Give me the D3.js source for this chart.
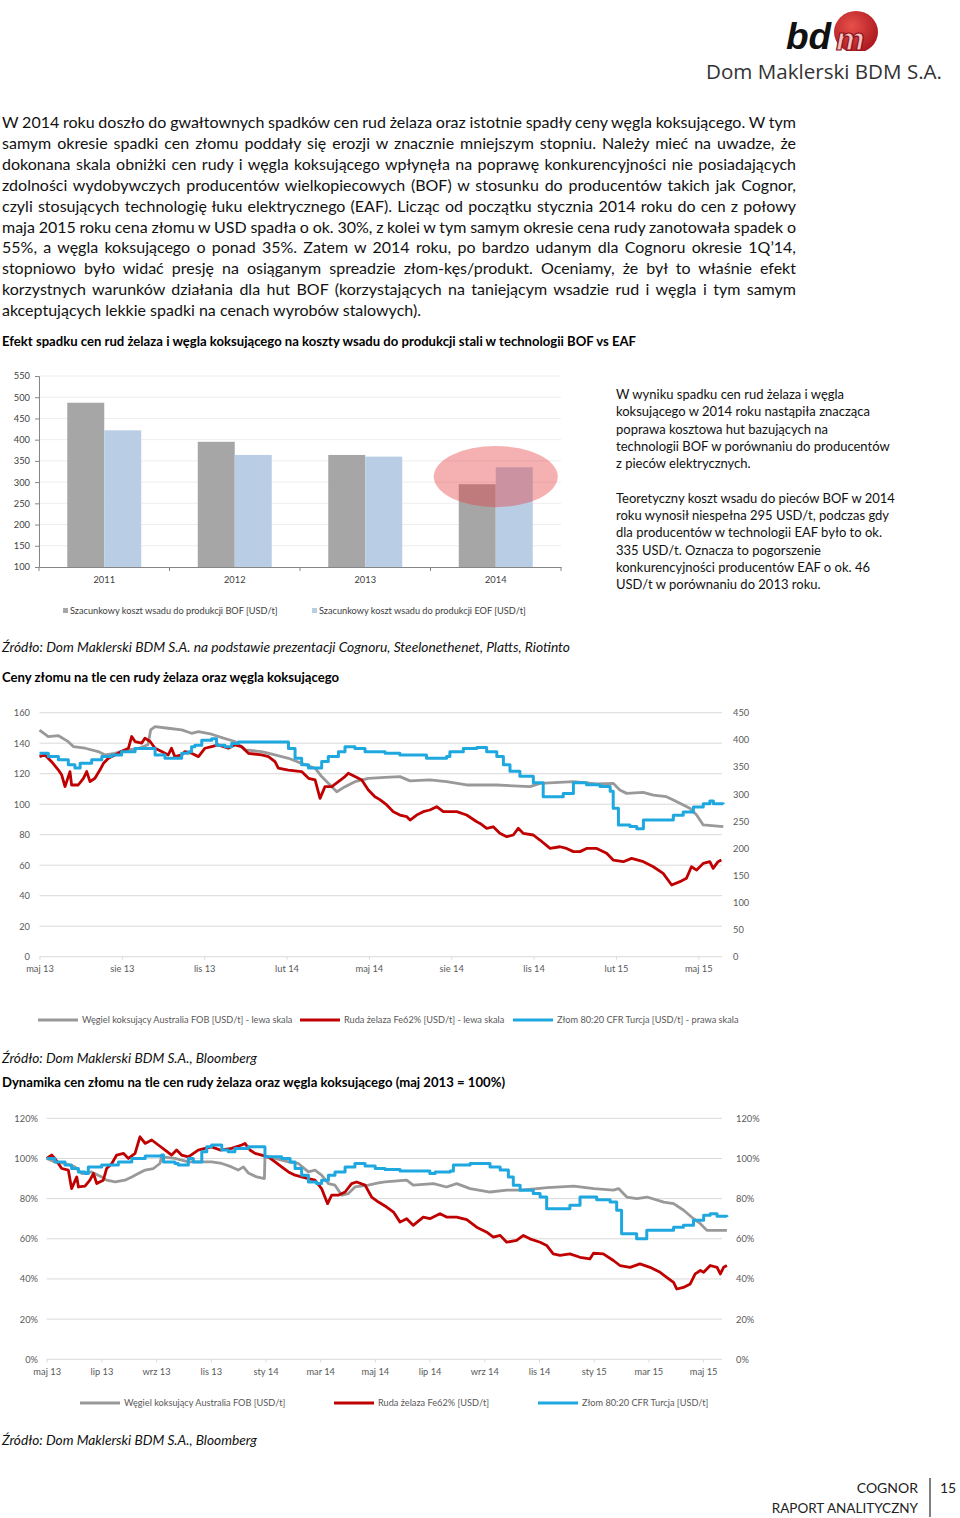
<!DOCTYPE html>
<html lang="pl">
<head>
<meta charset="utf-8">
<script src="https://d3js.org/d3.v7.min.js"></script>
<style>
  body { margin: 0; background: #fff; }
  svg text { font-family: Lato, "Open Sans", sans-serif; }
</style>
</head>
<body>
<script>
// ---- dane: wykres słupkowy ----
const lata = ["2011", "2012", "2013", "2014"];
const kosztBOF = [487, 395, 364, 295];
const kosztEOF = [422, 364, 360, 335];
const tickiSlupki = [100, 150, 200, 250, 300, 350, 400, 450, 500, 550];

// ---- dane: ceny (t = miesiące od maja 2013) ----
const etykietyCeny = ["maj 13", "sie 13", "lis 13", "lut 14", "maj 14", "sie 14", "lis 14", "lut 15", "maj 15"];
const miesiaceCeny = [0, 3, 6, 9, 12, 15, 18, 21, 24];
const tickiLewa = [0, 20, 40, 60, 80, 100, 120, 140, 160];
const tickiPrawa = [0, 50, 100, 150, 200, 250, 300, 350, 400, 450];

const wegielUsd = [[0,148.5],[0.32,144.3],[0.69,144.9],[1.05,141],[1.23,137.8],[1.66,136.7],[2.14,134.5],[2.39,132.3],[2.75,133.4],[3.11,135.5],[3.6,136.5],[3.95,139],[4.05,148.7],[4.21,150.9],[4.69,149.8],[5.18,148.7],[5.54,146.5],[5.79,147.6],[6.27,145.9],[6.7,143.3],[7.12,141.1],[7.49,135.6],[8.09,134.5],[8.58,132.3],[9.07,130.1],[9.55,126.8],[10.04,123.6],[10.28,118.1],[10.52,113.7],[10.83,108.2],[11.13,111.5],[11.49,114.8],[11.98,117],[12.59,117.6],[13.13,118.1],[13.5,115.3],[14.22,116],[14.83,114.8],[15.56,112.6],[16.66,112.6],[17.87,111.5],[18.23,113.7],[19.45,114.8],[20.3,113.3],[20.9,113.7],[21.14,109.3],[21.39,107.1],[21.99,107.8],[22.36,106],[22.84,104.9],[23.09,102.8],[23.33,100.6],[23.69,97.3],[23.94,92.9],[24.18,86.4],[24.91,85.3]];

const rudaUsd = [[0,131.2],[0.2,132.3],[0.44,127.9],[0.69,122.4],[0.81,119.1],[0.93,111.5],[1.05,118.1],[1.11,121.4],[1.17,112.6],[1.41,112.6],[1.6,117],[1.72,121.4],[1.84,114.8],[2.02,117],[2.2,122.4],[2.33,126.8],[2.51,130.1],[2.75,132.3],[2.99,134.5],[3.24,136.7],[3.36,144.4],[3.48,141.1],[3.72,140],[3.84,143.3],[4.03,141.1],[4.21,136.7],[4.45,134.5],[4.69,132.3],[4.81,136.7],[4.93,131.2],[5.18,132.3],[5.3,134.5],[5.54,133.4],[5.79,131.2],[6.03,136.7],[6.27,137.8],[6.51,138.9],[6.88,136.7],[7.12,138.9],[7.36,137.8],[7.61,133.4],[8.09,132.3],[8.34,131.2],[8.58,127.9],[8.7,123.6],[9.07,122.4],[9.55,121.4],[9.8,117],[10.04,115.9],[10.22,103.8],[10.4,111.5],[10.65,111.5],[10.89,114.8],[11.13,118.1],[11.25,120.3],[11.49,118.1],[11.74,115.9],[11.98,109.3],[12.22,104.9],[12.4,103],[12.65,99.5],[12.89,95.1],[13.13,92.9],[13.38,91.8],[13.5,89.6],[13.74,92.9],[13.98,95.1],[14.22,96.2],[14.47,98.4],[14.71,95.1],[15.2,95.1],[15.56,92.9],[15.93,88.5],[16.05,87.4],[16.29,84.2],[16.53,85.2],[16.77,80.9],[17.02,78.7],[17.26,79.8],[17.44,84.2],[17.62,80.9],[17.99,79.8],[18.23,76.5],[18.6,71],[18.96,72.1],[19.2,71],[19.45,68.9],[19.69,68.9],[19.93,71],[20.3,71],[20.66,67.8],[20.9,63.4],[21.27,62.3],[21.57,64.5],[22,62.3],[22.36,59],[22.72,54.6],[23.03,47],[23.33,49.2],[23.57,51.4],[23.75,59],[23.94,56.8],[24.18,61.2],[24.42,62.3],[24.54,57.9],[24.72,62.3],[24.84,63.4]];

const zlomUsd = [[0,375],[0.32,369],[0.69,363],[1.05,354],[1.29,348],[1.48,357],[1.9,363],[2.27,369],[2.63,372],[2.99,378],[3.48,384],[4.09,384],[4.21,372],[4.57,366],[4.93,366],[5.18,375],[5.42,378],[5.54,387],[5.66,390],[5.91,399],[6.27,402],[6.45,390],[6.76,387],[7,393],[7.24,396],[8.82,396],[9.07,384],[9.31,366],[9.55,354],[9.8,348],[10.1,348],[10.28,360],[10.52,369],[10.89,378],[11.13,387],[11.49,384],[11.86,378],[12.59,375],[13.13,372],[14.1,366],[14.83,369],[14.95,378],[15.44,384],[15.93,386],[16.29,378],[16.66,369],[16.9,354],[17.14,342],[17.5,333],[17.99,321],[18.35,295],[19.08,301],[19.45,321],[19.93,317],[20.42,314],[20.79,305],[20.9,274],[21.09,243],[21.51,240],[21.76,236],[22,252],[22.6,252],[23.09,261],[23.45,267],[23.82,276],[24.18,282],[24.42,287],[24.55,282],[24.91,281]];

// ---- dane: dynamika (maj 2013 = 100%) ----
const etykietyDyn = ["maj 13", "lip 13", "wrz 13", "lis 13", "sty 14", "mar 14", "maj 14", "lip 14", "wrz 14", "lis 14", "sty 15", "mar 15", "maj 15"];
const miesiaceDyn = [0, 2, 4, 6, 8, 10, 12, 14, 16, 18, 20, 22, 24];
const tickiProc = [0, 20, 40, 60, 80, 100, 120];

const wegielIdx = [[0,100],[0.3,98.3],[0.67,97.5],[1.03,95.8],[1.28,92.5],[1.64,93.3],[2.01,90.8],[2.19,89.2],[2.5,88.3],[2.86,89.2],[3.11,90.8],[3.35,92.5],[3.6,94.2],[3.9,95],[4.14,97.5],[4.2,100.8],[4.69,100],[5.18,98.3],[6.03,98.3],[6.4,97.5],[6.76,95.8],[7,94.2],[7.19,95.8],[7.37,92.8],[7.68,90.8],[7.96,90],[7.98,100.8],[8.35,100],[8.84,98.3],[9.2,97.5],[9.57,93.3],[9.81,94.2],[10.05,91.7],[10.3,87.5],[10.54,86.7],[10.79,81.7],[11.03,82.5],[11.27,85.8],[11.76,86.7],[12.13,87.8],[12.37,88.3],[13.16,89.2],[13.4,86.7],[14.14,87.5],[14.62,85.8],[14.99,87.5],[15.48,85],[16.21,83.3],[16.82,84.2],[17.31,84.2],[17.93,85],[18.3,85.5],[19.27,86.2],[20.01,85],[20.72,84.2],[20.91,85],[21.21,80.8],[21.58,80],[21.95,80.8],[22.56,78.3],[22.92,77.5],[23.29,74.2],[23.65,70],[23.9,67.5],[24.14,64.2],[24.87,64.2]];

const rudaIdx = [[0,100],[0.18,101.7],[0.3,100],[0.55,95],[0.79,94.2],[0.91,85],[1.1,90.8],[1.16,85.8],[1.4,86.2],[1.58,89.2],[1.71,92.5],[1.83,87.5],[2.07,89.2],[2.19,95],[2.38,97.5],[2.56,101.7],[2.81,102.5],[2.99,100],[3.23,102.5],[3.41,110.8],[3.6,107.5],[3.84,109.2],[4.08,106.7],[4.33,104.2],[4.57,101.7],[4.75,104.2],[4.93,101.7],[5.18,100.8],[5.54,104.2],[5.79,105],[6.03,105.8],[6.34,104.2],[6.76,105],[7.13,106.7],[7.25,107.5],[7.43,104.2],[7.62,102.5],[8.1,100.8],[8.35,98.3],[8.59,95.8],[8.84,93.3],[9.08,91.7],[9.32,90.8],[9.57,90],[9.81,89.2],[10.05,85],[10.27,77.5],[10.42,81.7],[10.66,81.7],[10.91,83.3],[11.15,87.5],[11.33,88.3],[11.64,86.7],[11.88,80.8],[12.13,78.3],[12.43,75.8],[12.68,73.3],[12.92,68.3],[13.16,70],[13.4,66.7],[13.77,70.8],[14.01,70],[14.38,72.5],[14.62,70.8],[14.99,70.8],[15.36,69.5],[15.72,65.8],[16.09,63.3],[16.33,60.8],[16.58,61.7],[16.82,58.3],[17.18,59.2],[17.43,61.7],[17.67,60],[18.04,58.3],[18.28,56.7],[18.52,52.5],[18.77,51.7],[19.13,52.5],[19.5,50.8],[19.86,50],[19.99,52.8],[20.35,52.5],[20.72,49.2],[20.96,46.7],[21.33,45.8],[21.69,47.5],[22.06,45.8],[22.43,43.3],[22.67,40.8],[22.92,38.3],[23.04,35],[23.28,35.8],[23.53,37.5],[23.71,42.5],[23.9,44.2],[24.02,43.3],[24.26,46.7],[24.51,45.8],[24.63,42.5],[24.75,45.8],[24.87,46.7]];

const zlomIdx = [[0,100],[0.3,98.3],[0.67,96.7],[0.91,95],[1.16,93.3],[1.4,92.5],[1.52,95.8],[2.01,96.7],[2.62,98.3],[3.11,100],[3.6,101.2],[4.2,101.7],[4.27,98.3],[4.69,97.5],[4.81,96.7],[5.12,96.7],[5.18,100],[5.36,98.3],[5.6,98.3],[5.67,103.3],[5.85,105.8],[6.03,106.7],[6.28,106.7],[6.4,104.2],[6.64,103.3],[6.88,105],[7.37,105.8],[7.96,105.8],[7.98,100.8],[8.59,100],[8.9,98.3],[9.08,95],[9.32,91.7],[9.57,88.3],[9.87,87.5],[10.05,89.2],[10.3,91.7],[10.54,93.3],[10.91,95.8],[11.27,97.5],[11.64,96.2],[12.01,95],[12.37,94.5],[12.92,93.8],[14.01,92.5],[14.2,93.3],[14.75,93.8],[14.87,96.7],[15.48,97.5],[15.84,97.5],[16.21,95.8],[16.58,94.2],[16.88,90.8],[17.06,86.7],[17.31,84.2],[17.79,82.5],[18.04,80.8],[18.28,75],[18.77,75],[19.13,76.7],[19.5,80.8],[20.11,79.5],[20.6,78.3],[20.84,74.2],[21.02,62.5],[21.57,60],[21.94,64.2],[22.55,64.2],[22.92,65.8],[23.28,66.7],[23.65,69.2],[24.02,71.7],[24.26,72.5],[24.51,71.2],[24.87,70.8]];

// ---- teksty ----
const akapit = [
  "W 2014 roku doszło do gwałtownych spadków cen rud żelaza oraz istotnie spadły ceny węgla koksującego. W tym",
  "samym okresie spadki cen złomu poddały się erozji w znacznie mniejszym stopniu. Należy mieć na uwadze, że",
  "dokonana skala obniżki cen rudy i węgla koksującego wpłynęła na poprawę konkurencyjności nie posiadających",
  "zdolności wydobywczych producentów wielkopiecowych (BOF) w stosunku do producentów takich jak Cognor,",
  "czyli stosujących technologię łuku elektrycznego (EAF). Licząc od początku stycznia 2014 roku do cen z połowy",
  "maja 2015 roku cena złomu w USD spadła o ok. 30%, z kolei w tym samym okresie cena rudy zanotowała spadek o",
  "55%, a węgla koksującego o ponad 35%. Zatem w 2014 roku, po bardzo udanym dla Cognoru okresie 1Q’14,",
  "stopniowo było widać presję na osiąganym spreadzie złom-kęs/produkt. Oceniamy, że był to właśnie efekt",
  "korzystnych warunków działania dla hut BOF (korzystających na taniejącym wsadzie rud i węgla i tym samym",
  "akceptujących lekkie spadki na cenach wyrobów stalowych)."
];
const komentarz = [
  "W wyniku spadku cen rud żelaza i węgla",
  "koksującego w 2014 roku nastąpiła znacząca",
  "poprawa kosztowa hut bazujących na",
  "technologii BOF w porównaniu do producentów",
  "z pieców elektrycznych.",
  "",
  "Teoretyczny koszt wsadu do pieców BOF w 2014",
  "roku wynosił niespełna 295 USD/t, podczas gdy",
  "dla producentów w technologii EAF było to ok.",
  "335 USD/t. Oznacza to pogorszenie",
  "konkurencyjności producentów EAF o ok. 46",
  "USD/t w porównaniu do 2013 roku."
];

const szary = "#999999", czerwony = "#c00000", niebieski = "#1fa8e0";
const etykiety = "#595959";

const svg = d3.select("body").append("svg")
    .attr("width", 960)
    .attr("height", 1518);

function tekst(x, y, s, rozmiar, opcje) {
    opcje = opcje || {};
    const t = svg.append("text")
        .attr("x", x).attr("y", y)
        .attr("font-size", rozmiar)
        .attr("fill", opcje.kolor || "#000")
        .attr("font-weight", opcje.bold ? "bold" : null)
        .attr("font-style", opcje.italic ? "italic" : null)
        .attr("text-anchor", opcje.anchor || "start")
        .text(s);
    if (opcje.szer) t.attr("textLength", opcje.szer).attr("lengthAdjust", "spacingAndGlyphs");
    return t;
}

// ---- logo ----
const defs = svg.append("defs");
const grad = defs.append("radialGradient").attr("id", "kula").attr("cx", "40%").attr("cy", "35%").attr("r", "70%");
grad.append("stop").attr("offset", "0%").attr("stop-color", "#e8504a");
grad.append("stop").attr("offset", "100%").attr("stop-color", "#a8151d");
svg.append("ellipse").attr("cx", 856).attr("cy", 32).attr("rx", 22).attr("ry", 21).attr("fill", "url(#kula)");
svg.append("rect").attr("x", 830).attr("y", 51).attr("width", 52).attr("height", 6).attr("fill", "#fff");
tekst(786, 49, "bd", 37, { bold: true, italic: true, kolor: "#111" }).style("font-family", "'Liberation Sans', sans-serif");
tekst(836, 50, "m", 32, { bold: true, italic: true, kolor: "#f3c2c2" })
    .attr("stroke", "#8a0f16").attr("stroke-width", 1.2)
    .style("font-family", "'Liberation Sans', sans-serif");
tekst(706, 79, "Dom Maklerski BDM S.A.", 20, { kolor: "#333", szer: 236 }).style("font-family", "'Open Sans', sans-serif");

// ---- akapit wyjustowany ----
akapit.forEach((linia, i) => {
    const t = tekst(2, 128 + i * 20.9, linia, 16, { kolor: "#111" });
    if (i < akapit.length - 1) {
        const w = t.node().getComputedTextLength();
        const n = (linia.match(/ /g) || []).length;
        t.style("word-spacing", ((794 - w) / n) + "px");
    }
});

tekst(2, 346, "Efekt spadku cen rud żelaza i węgla koksującego na koszty wsadu do produkcji stali w technologii BOF vs EAF", 12.5, { bold: true, szer: 634 });

// ---- wykres słupkowy ----
const xLata = d3.scaleBand().domain(lata).range([39, 561]).paddingInner(0.433).paddingOuter(0.2165);
const xSeria = d3.scaleBand().domain(["BOF", "EOF"]).range([0, xLata.bandwidth()]);
const ySlupki = d3.scaleLinear().domain([100, 550]).range([567, 376]);

svg.append("g").selectAll("line").data(tickiSlupki.slice(1)).join("line")
    .attr("x1", 39).attr("x2", 561)
    .attr("y1", d => ySlupki(d)).attr("y2", d => ySlupki(d))
    .attr("stroke", "#eeeeee");

const grupy = svg.append("g").selectAll("g").data(lata).join("g")
    .attr("transform", d => `translate(${xLata(d)},0)`);
grupy.append("rect")
    .attr("x", xSeria("BOF")).attr("width", xSeria.bandwidth())
    .attr("y", (d, i) => ySlupki(kosztBOF[i]))
    .attr("height", (d, i) => ySlupki(100) - ySlupki(kosztBOF[i]))
    .attr("fill", "#a6a6a6");
grupy.append("rect")
    .attr("x", xSeria("EOF")).attr("width", xSeria.bandwidth())
    .attr("y", (d, i) => ySlupki(kosztEOF[i]))
    .attr("height", (d, i) => ySlupki(100) - ySlupki(kosztEOF[i]))
    .attr("fill", "#b9cde5");

// wyróżnienie 2014
svg.append("ellipse")
    .attr("cx", xLata("2014") + xLata.bandwidth() / 2)
    .attr("cy", ySlupki(313))
    .attr("rx", 62).attr("ry", (ySlupki(241) - ySlupki(385)) / 2)
    .attr("fill", "#e63c3c").attr("opacity", 0.4);

const osY = svg.append("g").attr("transform", "translate(39,0)")
    .call(d3.axisLeft(ySlupki).tickValues(tickiSlupki).tickSize(4).tickPadding(5));
const osX = svg.append("g").attr("transform", "translate(0,567)")
    .call(d3.axisBottom(xLata).tickSize(0).tickPadding(9));
[osY, osX].forEach(o => {
    o.select(".domain").attr("stroke", "#868686");
    o.selectAll(".tick line").attr("stroke", "#868686");
    o.selectAll("text").attr("font-size", 9.3).attr("fill", "#404040").style("font-family", "Lato, sans-serif");
});
svg.append("g").selectAll("line").data([39, 169.5, 300, 430.5, 561]).join("line")
    .attr("x1", d => d).attr("x2", d => d).attr("y1", 567).attr("y2", 571)
    .attr("stroke", "#868686");

const legSlupki = [["Szacunkowy koszt wsadu do produkcji BOF [USD/t]", "#a6a6a6", 63], ["Szacunkowy koszt wsadu do produkcji EOF [USD/t]", "#b9cde5", 312]];
legSlupki.forEach(([s, c, x]) => {
    svg.append("rect").attr("x", x).attr("y", 608).attr("width", 5).attr("height", 5).attr("fill", c);
    tekst(x + 7, 614, s, 9.2, { kolor: "#404040" });
});

komentarz.forEach((s, i) => tekst(616, 399 + i * 17.3, s, 13, { kolor: "#111" }));

tekst(2, 652, "Źródło: Dom Maklerski BDM S.A. na podstawie prezentacji Cognoru, Steelonethenet, Platts, Riotinto", 13, { italic: true, kolor: "#111", szer: 568 });
tekst(2, 682, "Ceny złomu na tle cen rudy żelaza oraz węgla koksującego", 13, { bold: true, szer: 337 });

// ---- wykres liniowy: funkcja wspólna ----
function wykresLiniowy(cfg) {
    const g = svg.append("g");
    g.selectAll("line.siatka").data(cfg.ticki).join("line")
        .attr("x1", cfg.x(0)).attr("x2", cfg.xKoniec)
        .attr("y1", d => cfg.yL(d)).attr("y2", d => cfg.yL(d))
        .attr("stroke", "#d9d9d9").attr("stroke-width", 1);

    const osX = g.append("g").attr("transform", `translate(0,${cfg.yL(0)})`)
        .call(d3.axisBottom(cfg.x).tickValues(cfg.miesiace).tickFormat((d, i) => cfg.etykiety[i]).tickSize(3).tickPadding(6));
    osX.select(".domain").remove();
    osX.selectAll(".tick line").attr("stroke", "#d9d9d9");
    osX.selectAll("text").attr("font-size", 9.3).attr("fill", etykiety).style("font-family", "Lato, sans-serif");

    const osL = g.append("g").attr("transform", `translate(${cfg.xEtykL},0)`)
        .call(d3.axisLeft(cfg.yL).tickValues(cfg.ticki).tickFormat(cfg.format).tickSize(0).tickPadding(0));
    const osP = g.append("g").attr("transform", `translate(${cfg.xEtykP},0)`)
        .call(d3.axisRight(cfg.yP).tickValues(cfg.tickiP).tickFormat(cfg.format).tickSize(0).tickPadding(0));
    [osL, osP].forEach(o => {
        o.select(".domain").remove();
        o.selectAll("text").attr("font-size", 9.3).attr("fill", etykiety).style("font-family", "Lato, sans-serif");
    });

    cfg.serie.forEach(s => {
        const linia = d3.line()
            .x(d => cfg.x(d[0]))
            .y(d => s.y(d[1]))
            .curve(s.schodki ? d3.curveStepAfter : d3.curveLinear);
        g.append("path").datum(s.dane)
            .attr("d", linia)
            .attr("fill", "none")
            .attr("stroke", s.kolor)
            .attr("stroke-width", s.szer)
            .attr("stroke-linejoin", "round");
    });

    cfg.legenda.forEach(([s, c, x]) => {
        g.append("line").attr("x1", x).attr("x2", x + 40).attr("y1", cfg.yLeg).attr("y2", cfg.yLeg)
            .attr("stroke", c).attr("stroke-width", 3);
        g.append("text").attr("x", x + 44).attr("y", cfg.yLeg + 3)
            .attr("font-size", 9.2).attr("fill", etykiety).text(s);
    });
}

// ---- ceny USD ----
const xCeny = d3.scaleLinear().domain([0, 24]).range([39.5, 698.3]);
const yLewa = d3.scaleLinear().domain([0, 160]).range([956.7, 712.7]);
const yPrawa = d3.scaleLinear().domain([0, 450]).range([956.7, 712.7]);
wykresLiniowy({
    x: xCeny, xKoniec: 722, yL: yLewa, yP: yPrawa,
    ticki: tickiLewa, tickiP: tickiPrawa, format: d => d,
    miesiace: miesiaceCeny, etykiety: etykietyCeny,
    xEtykL: 30, xEtykP: 733,
    serie: [
        { dane: wegielUsd, y: yLewa, kolor: szary, szer: 2.8 },
        { dane: rudaUsd, y: yLewa, kolor: czerwony, szer: 2.8 },
        { dane: zlomUsd, y: yPrawa, kolor: niebieski, szer: 3, schodki: true }
    ],
    yLeg: 1020,
    legenda: [
        ["Węgiel koksujący Australia FOB [USD/t] - lewa skala", szary, 38],
        ["Ruda żelaza Fe62% [USD/t] - lewa skala", czerwony, 300],
        ["Złom 80:20 CFR Turcja [USD/t] - prawa skala", niebieski, 513]
    ]
});

tekst(2, 1063, "Źródło: Dom Maklerski BDM S.A., Bloomberg", 13, { italic: true, kolor: "#111", szer: 255 });
tekst(2, 1087, "Dynamika cen złomu na tle cen rudy żelaza oraz węgla koksującego (maj 2013 = 100%)", 13, { bold: true, szer: 503 });

// ---- dynamika % ----
const xDyn = d3.scaleLinear().domain([0, 24]).range([46.7, 703.1]);
const yProc = d3.scaleLinear().domain([0, 120]).range([1359.3, 1118.3]);
wykresLiniowy({
    x: xDyn, xKoniec: 722, yL: yProc, yP: yProc,
    ticki: tickiProc, tickiP: tickiProc, format: d => d + "%",
    miesiace: miesiaceDyn, etykiety: etykietyDyn,
    xEtykL: 38, xEtykP: 736,
    serie: [
        { dane: wegielIdx, y: yProc, kolor: szary, szer: 2.8 },
        { dane: rudaIdx, y: yProc, kolor: czerwony, szer: 2.8 },
        { dane: zlomIdx, y: yProc, kolor: niebieski, szer: 3, schodki: true }
    ],
    yLeg: 1403,
    legenda: [
        ["Węgiel koksujący Australia FOB [USD/t]", szary, 80],
        ["Ruda żelaza Fe62% [USD/t]", czerwony, 334],
        ["Złom 80:20 CFR Turcja [USD/t]", niebieski, 538]
    ]
});

tekst(2, 1445, "Źródło: Dom Maklerski BDM S.A., Bloomberg", 13, { italic: true, kolor: "#111", szer: 255 });

// ---- stopka ----
tekst(918, 1493, "COGNOR", 14, { anchor: "end", kolor: "#222" });
tekst(918, 1513, "RAPORT ANALITYCZNY", 13.5, { anchor: "end", kolor: "#222" });
svg.append("line").attr("x1", 930).attr("x2", 930).attr("y1", 1478).attr("y2", 1517).attr("stroke", "#000");
tekst(940, 1493, "15", 14, { kolor: "#222" });
</script>
</body>
</html>
